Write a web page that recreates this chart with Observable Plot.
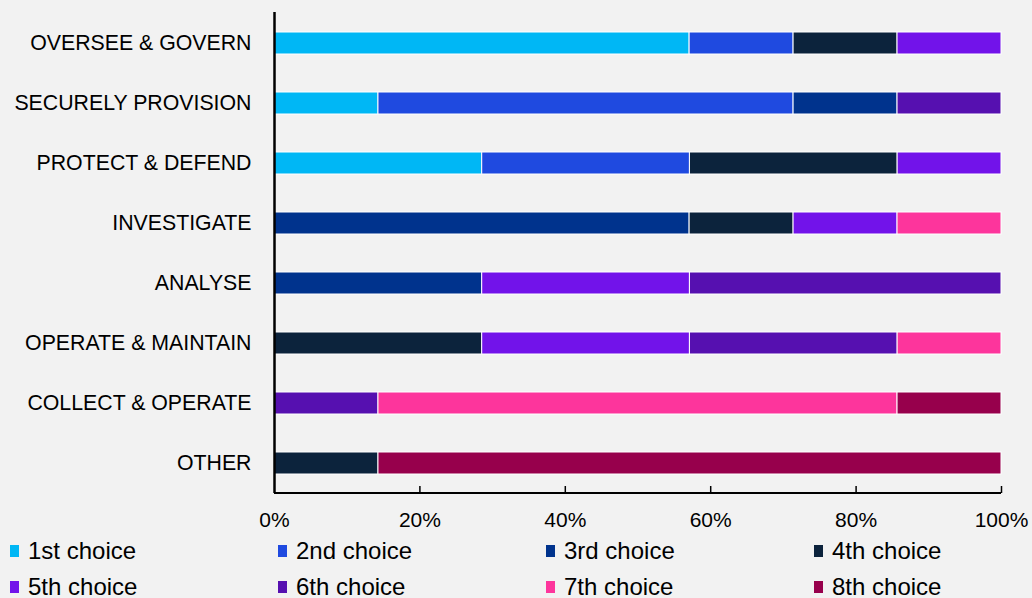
<!DOCTYPE html>
<html>
<head>
<meta charset="utf-8">
<script src="https://cdn.jsdelivr.net/npm/d3@7"></script>
<script src="https://cdn.jsdelivr.net/npm/@observablehq/plot@0.6"></script>
<style>
  html, body { margin: 0; padding: 0; background: #F2F2F2; }
  body { width: 1032px; height: 598px; overflow: hidden; font-family: "Liberation Sans", Arial, sans-serif; }
  #legend { display: grid; grid-template-columns: repeat(4, 268px); padding-left: 10px; font-size: 24px; line-height: 36px; color: #000; }
  .item { display: flex; align-items: center; white-space: nowrap; }
  .sw { width: 9px; height: 12px; margin-right: 9px; flex: none; }
</style>
</head>
<body>
<div id="chart"></div>
<div id="legend"></div>
<script>
const categories = ["OVERSEE & GOVERN", "SECURELY PROVISION", "PROTECT & DEFEND", "INVESTIGATE", "ANALYSE", "OPERATE & MAINTAIN", "COLLECT & OPERATE", "OTHER"];
const seriesNames = ["1st choice", "2nd choice", "3rd choice", "4th choice", "5th choice", "6th choice", "7th choice", "8th choice"];
const colors = ["#00B7F5", "#1F4AE0", "#00338D", "#0C233C", "#7213EA", "#5610B0", "#FD359C", "#97004C"];
const first  = [57.1, 14.3, 28.6, 0, 0, 0, 0, 0];
const second = [14.3, 57.1, 28.6, 0, 0, 0, 0, 0];
const third  = [0, 14.3, 0, 57.1, 28.6, 0, 0, 0];
const fourth = [14.3, 0, 28.6, 14.3, 0, 28.6, 0, 14.3];
const fifth  = [14.3, 0, 14.3, 14.3, 28.6, 28.6, 0, 0];
const sixth  = [0, 14.3, 0, 0, 42.9, 28.6, 14.3, 0];
const seventh= [0, 0, 0, 14.3, 0, 14.3, 71.4, 0];
const eighth = [0, 0, 0, 0, 0, 0, 14.3, 85.7];
const xTicks = [0, 0.2, 0.4, 0.6, 0.8, 1];

const seriesValues = [first, second, third, fourth, fifth, sixth, seventh, eighth];
const data = [];
seriesNames.forEach((s, i) => {
  categories.forEach((c, j) => {
    const v = seriesValues[i][j];
    if (v > 0) data.push({category: c, series: s, value: v});
  });
});

const W = 1032, H = 533, mt = 12, mb = 40, ml = 274, mr = 31;
const frameH = H - mt - mb;

const chart = Plot.plot({
  width: W, height: H,
  marginTop: mt, marginBottom: mb, marginLeft: ml, marginRight: mr,
  style: {background: "#F2F2F2", fontFamily: "Liberation Sans, Arial, sans-serif", fontSize: "21px", color: "#000"},
  x: {domain: [0, 1], label: null},
  y: {domain: categories, label: null, paddingInner: 0.634, paddingOuter: 0.317},
  color: {domain: seriesNames, range: colors},
  marks: [
    Plot.barX(data, Plot.stackX({x: "value", y: "category", fill: "series", offset: "normalize", stroke: "white", strokeWidth: 1})),
    Plot.ruleX([0], {stroke: "#000", strokeWidth: 2.5}),
    Plot.rect([0], {x1: 0, x2: 1, insetTop: frameH - 1, insetBottom: -1, fill: "#000"}),
    Plot.ruleX(xTicks.slice(1), {stroke: "#000", strokeWidth: 1.5, insetTop: frameH - 7}),
    Plot.axisY({tickSize: 0, tickPadding: 23, fill: "#000", fontSize: 21.3}),
    Plot.axisX({ticks: xTicks, tickSize: 0, tickPadding: 19, tickFormat: d3.format(".0%"), fill: "#000", fontSize: 21})
  ]
});
document.getElementById("chart").appendChild(chart);

const legend = document.getElementById("legend");
seriesNames.forEach((s, i) => {
  const item = document.createElement("div");
  item.className = "item";
  const sw = document.createElement("span");
  sw.className = "sw";
  sw.style.background = colors[i];
  const t = document.createElement("span");
  t.textContent = s;
  item.appendChild(sw);
  item.appendChild(t);
  legend.appendChild(item);
});
</script>
</body>
</html>
